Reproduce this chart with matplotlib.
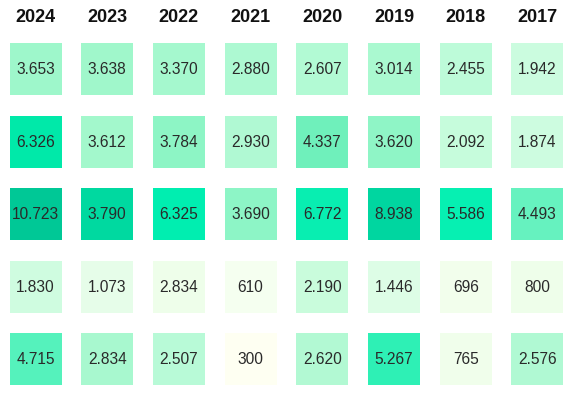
import matplotlib
matplotlib.use("Agg")
import matplotlib.pyplot as plt
from matplotlib.patches import Rectangle
from matplotlib import font_manager as fm

years = ["2024", "2023", "2022", "2021", "2020", "2019", "2018", "2017"]
row1 = ["3.653", "3.638", "3.370", "2.880", "2.607", "3.014", "2.455", "1.942"]
row2 = ["6.326", "3.612", "3.784", "2.930", "4.337", "3.620", "2.092", "1.874"]
row3 = ["10.723", "3.790", "6.325", "3.690", "6.772", "8.938", "5.586", "4.493"]
row4 = ["1.830", "1.073", "2.834", "610", "2.190", "1.446", "696", "800"]
row5 = ["4.715", "2.834", "2.507", "300", "2.620", "5.267", "765", "2.576"]
rows = [row1, row2, row3, row4, row5]

colors1 = ["#9ef7cb", "#a0f7cb", "#a5f8ce", "#adf9d2", "#b2fad4", "#aaf9d0", "#bdfbd9", "#cbfcdf"]
colors2 = ["#00e9a9", "#a3f8cc", "#8df5c5", "#b0f9d3", "#6ff0bb", "#8ff5c6", "#c6fcdc", "#cdfce0"]
colors3 = ["#00c896", "#00d9a0", "#00eeb0", "#8df5c6", "#08eeb1", "#00d6a0", "#06f0b2", "#66f2bf"]
colors4 = ["#cffce0", "#e6fde9", "#eefeea", "#f5fff0", "#c9fcdc", "#ddfde6", "#f2feec", "#eefeea"]
colors5 = ["#55f2bc", "#a8f8cf", "#b8fad7", "#fefff2", "#b2f9d3", "#2ef0b5", "#f0feeb", "#b0f9d3"]
cell_colors = [colors1, colors2, colors3, colors4, colors5]

# pick the regular-width Liberation Sans files explicitly
def pick(weight):
    cands = [f for f in fm.fontManager.ttflist
             if f.name == "Liberation Sans" and f.style == "normal"
             and f.stretch == "normal"]
    best = None
    for f in cands:
        w = f.weight if isinstance(f.weight, int) else (700 if "bold" in str(f.weight) else 400)
        if (weight == "bold") == (w >= 600):
            best = f.fname
            break
    if best:
        return fm.FontProperties(fname=best)
    return fm.FontProperties(family="Liberation Sans", weight=weight)

fp_reg = pick("normal")
fp_bold = pick("bold")

W, H = 569, 399
fig = plt.figure(figsize=(W / 100, H / 100), dpi=100)
ax = fig.add_axes([0, 0, 1, 1])
ax.set_axis_off()

colstep = 71.7
rowstep = 72.5
x0 = 35.5
y0 = 69.0
ax.set_xlim(-x0 / colstep, (W - x0) / colstep)
ax.set_ylim((H - y0) / rowstep, -y0 / rowstep)

cw = 52 / colstep
ch = 52 / rowstep

for j, (vals, cols) in enumerate(zip(rows, cell_colors)):
    for i, (v, c) in enumerate(zip(vals, cols)):
        ax.add_patch(Rectangle((i - cw / 2, j - ch / 2), cw, ch, facecolor=c, edgecolor="none"))
        ax.text(i, j + 0.01, v, ha="center", va="center", fontproperties=fp_reg,
                fontsize=11.2, color="#2a2a2a")

for i, y in enumerate(years):
    ax.text(i, (17 - y0) / rowstep, y, ha="center", va="center", fontproperties=fp_bold,
            fontsize=13, color="#111111")

fig.savefig("out.png", dpi=100)
